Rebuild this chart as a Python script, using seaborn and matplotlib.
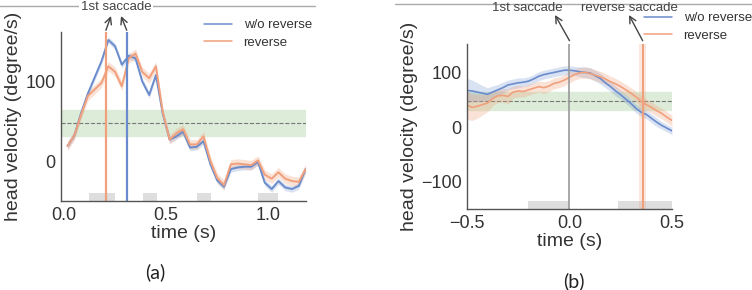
import numpy as np
import pandas as pd
import matplotlib
matplotlib.use('Agg')
import matplotlib.pyplot as plt
import seaborn as sns
from matplotlib.lines import Line2D
from matplotlib.patches import Rectangle

# ---- panel (a) data
t_a = [0.017, 0.05, 0.083, 0.117, 0.15, 0.183, 0.217, 0.25, 0.283, 0.317,
       0.35, 0.383, 0.417, 0.45, 0.483, 0.517, 0.55, 0.583, 0.617, 0.65,
       0.683, 0.717, 0.75, 0.783, 0.817, 0.85, 0.883, 0.917, 0.95, 0.983,
       1.017, 1.05, 1.083, 1.117, 1.15, 1.183]
wo_a = [19, 32, 60, 85, 105, 125, 152, 144, 121, 132,
        129, 100, 83, 108, 60, 27, 31, 37, 17, 18,
        25, -4, -24, -32, -10, -8, -7, -7, -1, -27,
        -35, -25, -33, -35, -31, -10]
rev_a = [19, 32, 58, 82, 90, 98, 119, 112, 94, 129,
         135, 112, 104, 119, 62, 27, 35, 40, 21, 21,
         31, 0, -21, -30, -4, -3, -4, -5, 1, -17,
         -22, -14, -22, -25, -26, -10]
wo_a_ci = 4
rev_a_ci = 6
saccade_a = {'w/o reverse': 0.307, 'reverse': 0.205}
boxes_a = [(0.12, 0.25), (0.385, 0.455), (0.65, 0.72), (0.95, 1.05)]

# ---- panel (b) data
t_b = np.linspace(-0.5, 0.5, 41)
wo_b = [67, 66, 64, 62, 60, 64, 68, 72, 77, 79,
        81, 82, 84, 88, 93, 96, 98, 100, 102, 104,
        104, 103, 101, 100, 99, 94, 89, 81, 74, 66,
        59, 51, 43, 34, 27, 23, 16, 9, 3, -2, -7]
rev_b = [40, 36, 38, 41, 44, 52, 57, 58, 56, 64,
         66, 65, 68, 71, 74, 72, 75, 80, 82, 86,
         91, 96, 99, 100, 98, 95, 92, 88, 83, 79,
         74, 68, 62, 55, 47, 41, 36, 30, 25, 18, 12]
wo_b_ci = [22, 20, 17, 14, 12, 11, 10, 10, 9, 9,
           9, 8, 8, 8, 8, 8, 8, 8, 8, 8,
           8, 8, 9, 10, 10, 10, 10, 9, 9, 9,
           8, 8, 8, 8, 8, 8, 8, 8, 7, 7, 7]
rev_b_ci = [26, 24, 22, 19, 16, 13, 12, 12, 14, 11,
            11, 10, 10, 10, 10, 11, 10, 10, 10, 10,
            10, 10, 10, 10, 10, 10, 10, 10, 10, 10,
            10, 10, 10, 10, 10, 10, 10, 10, 10, 10, 10]
rev_saccade_b = 0.357
boxes_b = [(-0.2, 0.0), (0.237, 0.5)]

threshold = 48
band = (32, 64)

blue = '#6a8ccc'
orange = '#f0a07c'
ink = '#333333'

sns.set_theme(style='white')
plt.rcParams['font.family'] = ['Liberation Sans', 'DejaVu Sans']
plt.rcParams['text.color'] = ink

fig = plt.figure(figsize=(7.52, 2.90), dpi=100)
ax_a = fig.add_axes([0.0811, 0.3069, 0.3258, 0.5828])
ax_b = fig.add_axes([0.621, 0.2793, 0.2726, 0.569])

df_a = pd.DataFrame({'time': t_a * 2,
                     'v': wo_a + rev_a,
                     'cond': ['w/o reverse'] * len(t_a) + ['reverse'] * len(t_a)})
df_b = pd.DataFrame({'time': list(t_b) * 2,
                     'v': wo_b + rev_b,
                     'cond': ['w/o reverse'] * len(t_b) + ['reverse'] * len(t_b)})
pal = {'w/o reverse': blue, 'reverse': orange}


def style_axes(ax):
    for s in ['top', 'right']:
        ax.spines[s].set_visible(False)
    for s in ['left', 'bottom']:
        ax.spines[s].set_color('#555555')
        ax.spines[s].set_linewidth(1.0)
    ax.tick_params(labelsize=13, length=0, pad=4, labelcolor=ink)
    ax.set_xlabel('time (s)', fontsize=14, labelpad=1, color=ink)
    ax.set_ylabel('head velocity (degree/s)', fontsize=14, labelpad=2, color=ink)


def legend_at(ax, x_px, y_px):
    leg = ax.legend(loc='upper left', bbox_to_anchor=(x_px / 752, 1 - y_px / 290),
                    bbox_transform=fig.transFigure, frameon=False, fontsize=9.5,
                    handlelength=2.1, labelspacing=0.4, handletextpad=0.9,
                    borderpad=0, borderaxespad=0)
    for h in leg.get_lines():
        h.set_linewidth(1.1)
    for t in leg.get_texts():
        t.set_color(ink)


# panel (a)
ax = ax_a
ax.axhspan(band[0], band[1], color='#dcecd8', zorder=0)
ax.axhline(threshold, color='#777777', ls='--', lw=0.8, zorder=1)
for x0, x1 in boxes_a:
    ax.add_patch(Rectangle((x0, -50), x1 - x0, 10, color='#dedede', lw=0, zorder=1))
ax.fill_between(t_a, np.array(wo_a) - wo_a_ci, np.array(wo_a) + wo_a_ci, color=blue, alpha=0.25, lw=0)
ax.fill_between(t_a, np.array(rev_a) - rev_a_ci, np.array(rev_a) + rev_a_ci, color=orange, alpha=0.3, lw=0)
sns.lineplot(data=df_a, x='time', y='v', hue='cond', palette=pal, ax=ax, lw=1.4)
ax.axvline(saccade_a['reverse'], color=orange, lw=1.6)
ax.axvline(saccade_a['w/o reverse'], color=blue, lw=1.6)
ax.set_xlim(-0.015, 1.185)
ax.set_ylim(-50, 162)
ax.set_xticks([0.0, 0.5, 1.0])
ax.set_yticks([0, 100])
style_axes(ax)
legend_at(ax, 204, 19)

# panel (b)
ax = ax_b
ax.axhspan(band[0], band[1], color='#dcecd8', zorder=0)
ax.axhline(threshold, color='#777777', ls='--', lw=0.8, zorder=1)
for x0, x1 in boxes_b:
    ax.add_patch(Rectangle((x0, -150), x1 - x0, 15, color='#dedede', lw=0, zorder=1))
ax.fill_between(t_b, np.array(wo_b) - np.array(wo_b_ci), np.array(wo_b) + np.array(wo_b_ci),
                color=blue, alpha=0.25, lw=0)
ax.fill_between(t_b, np.array(rev_b) - np.array(rev_b_ci), np.array(rev_b) + np.array(rev_b_ci),
                color=orange, alpha=0.3, lw=0)
sns.lineplot(data=df_b, x='time', y='v', hue='cond', palette=pal, ax=ax, lw=1.2)
ax.axvline(0.0, color='#999999', lw=1.2)
ax.axvspan(rev_saccade_b - 0.017, rev_saccade_b + 0.017, color=orange, alpha=0.25, lw=0)
ax.axvline(rev_saccade_b, color=orange, lw=1.4)
ax.set_xlim(-0.5, 0.5)
ax.set_ylim(-150, 152)
ax.set_xticks([-0.5, 0.0, 0.5])
ax.set_yticks([-100, 0, 100])
style_axes(ax)
legend_at(ax, 644, 12)

# annotations
ann = dict(fontsize=9.5, color='#444444', ha='center', va='center')
fig.text(116 / 752, 1 - 7 / 290, '1st saccade',
         bbox=dict(facecolor='white', edgecolor='none', pad=1), zorder=5, **ann)
fig.text(527 / 752, 1 - 8 / 290, '1st saccade', **ann)
fig.text(629 / 752, 1 - 8 / 290, 'reverse saccade', **ann)

arrow = dict(arrowstyle='->', color='#444444', lw=1.0, shrinkA=0, shrinkB=0)
ax_a.annotate('', xy=(111 / 752, 1 - 16 / 290), xycoords='figure fraction',
              xytext=(saccade_a['reverse'], 1.01), textcoords=ax_a.get_xaxis_transform(),
              arrowprops=arrow)
ax_a.annotate('', xy=(121 / 752, 1 - 16 / 290), xycoords='figure fraction',
              xytext=(saccade_a['w/o reverse'], 1.01), textcoords=ax_a.get_xaxis_transform(),
              arrowprops=arrow)
ax_b.annotate('', xy=(555 / 752, 1 - 15 / 290), xycoords='figure fraction',
              xytext=(0.0, 1.02), textcoords=ax_b.get_xaxis_transform(),
              arrowprops=arrow)
ax_b.annotate('', xy=(629 / 752, 1 - 15 / 290), xycoords='figure fraction',
              xytext=(rev_saccade_b, 1.02), textcoords=ax_b.get_xaxis_transform(),
              arrowprops=arrow)

# thin gray rules along the top
fig.add_artist(Line2D([0, 315 / 752], [1 - 6 / 290] * 2, color='#aaaaaa', lw=1.0, zorder=1))
fig.add_artist(Line2D([395 / 752, 1], [1 - 4 / 290] * 2, color='#aaaaaa', lw=1.0, zorder=1))

# captions
fig.text(155 / 752, 1 - 272 / 290, '(a)', fontsize=14, family=['Lato', 'DejaVu Sans'],
         ha='center', va='center', color='#222222')
fig.text(574 / 752, 1 - 281 / 290, '(b)', fontsize=14, family=['Lato', 'DejaVu Sans'],
         ha='center', va='center', color='#222222')

fig.savefig('out.png', dpi=100)
